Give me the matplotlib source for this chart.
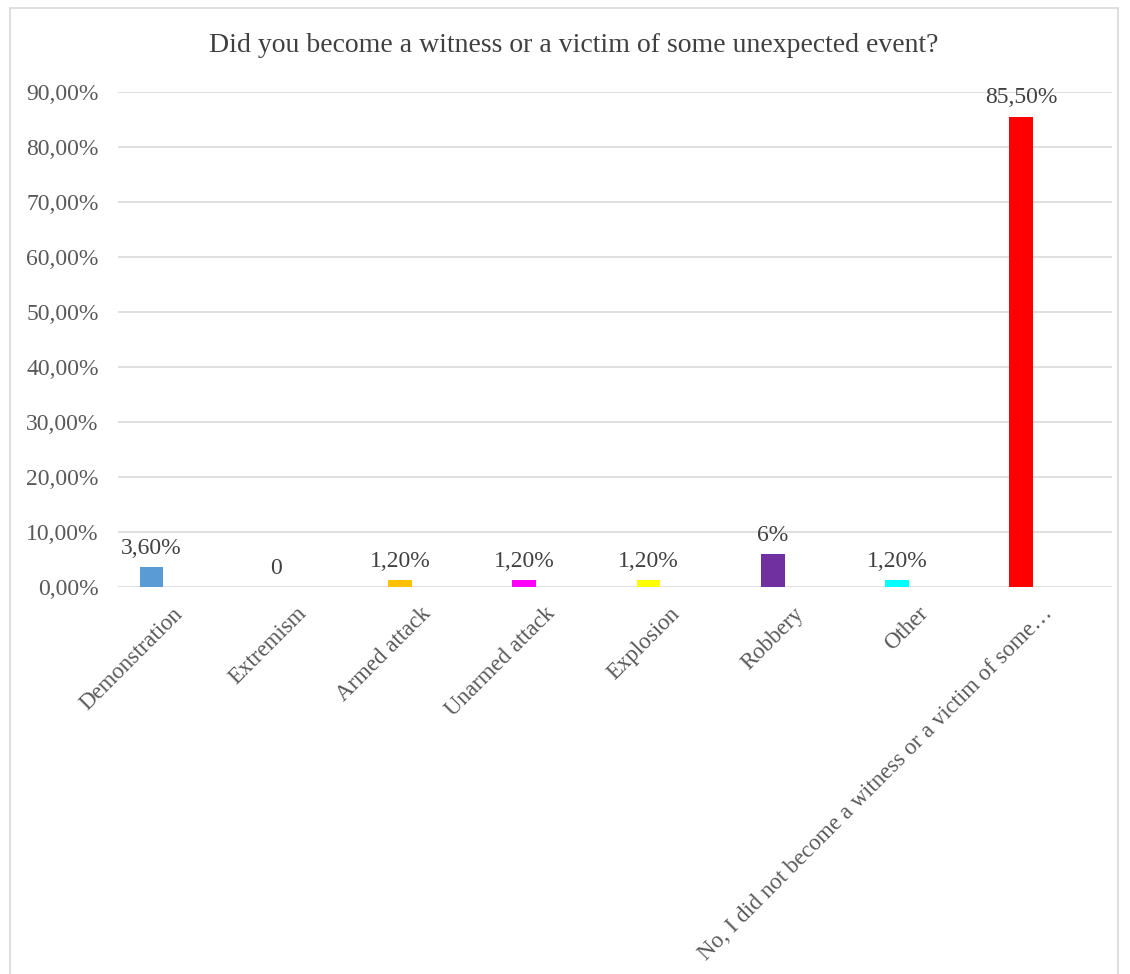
import matplotlib.pyplot as plt
from matplotlib.patches import Rectangle
from matplotlib.transforms import ScaledTranslation

# Survey data (percent)
categories = ['Demonstration', 'Extremism', 'Armed attack', 'Unarmed attack',
              'Explosion', 'Robbery', 'Other',
              'No, I did not become a witness or a victim of some\u2026']
values = [3.6, 0.0, 1.2, 1.2, 1.2, 6.0, 1.2, 85.5]
value_labels = ['3,60%', '0', '1,20%', '1,20%', '1,20%', '6%', '1,20%', '85,50%']
colors = ['#5B9BD5', '#A5A5A5', '#FFC000', '#FF00FF', '#FFFF00',
          '#7030A0', '#00FFFF', '#FF0000']
yticks = [0, 10, 20, 30, 40, 50, 60, 70, 80, 90]
ytick_labels = ['0,00%', '10,00%', '20,00%', '30,00%', '40,00%',
                '50,00%', '60,00%', '70,00%', '80,00%', '90,00%']

plt.rcParams['font.family'] = ['Liberation Serif', 'DejaVu Serif']

W, H = 1130, 974
fig = plt.figure(figsize=(W / 100, H / 100), dpi=100)
ax = fig.add_axes([118 / W, 1 - 587 / H, (1112 - 118) / W, (587 - 92) / H])

x = list(range(len(categories)))
ax.bar(x, values, width=0.19, color=colors, zorder=3)

for xi, v, lab in zip(x, values, value_labels):
    ax.annotate(lab, (xi, v), xytext=(0, 6), textcoords='offset points',
                ha='center', va='bottom', fontsize=17, color='#404040',
                annotation_clip=False)

ax.set_xlim(-0.27, len(categories) - 0.27)
ax.set_ylim(0, 90)
ax.set_yticks(yticks)
ax.set_yticklabels(ytick_labels, fontsize=17, color='#595959')
ax.yaxis.grid(True, color='#D9D9D9', linewidth=1.2, zorder=0)
ax.tick_params(axis='y', length=0, pad=14)
ax.tick_params(axis='x', length=0, pad=10)
for s in ax.spines.values():
    s.set_visible(False)

ax.set_xticks(x)
ax.set_xticklabels(categories, rotation=45, ha='right', va='center',
                   rotation_mode='anchor', fontsize=16.5, color='#595959')
offset = ScaledTranslation(20 / 72, -7 / 72, fig.dpi_scale_trans)
for t in ax.get_xticklabels():
    t.set_transform(t.get_transform() + offset)

fig.text(574 / W, 1 - 45 / H, 'Did you become a witness or a victim of some unexpected event?',
         ha='center', va='center', fontsize=20, color='#404040')

# chart frame
fig.patches.append(Rectangle((10 / W, -0.01), (1118 - 10) / W, 1 - 8 / H + 0.01,
                             transform=fig.transFigure, fill=False,
                             edgecolor='#D9D9D9', linewidth=1.2))

fig.savefig('out.png', dpi=100)
